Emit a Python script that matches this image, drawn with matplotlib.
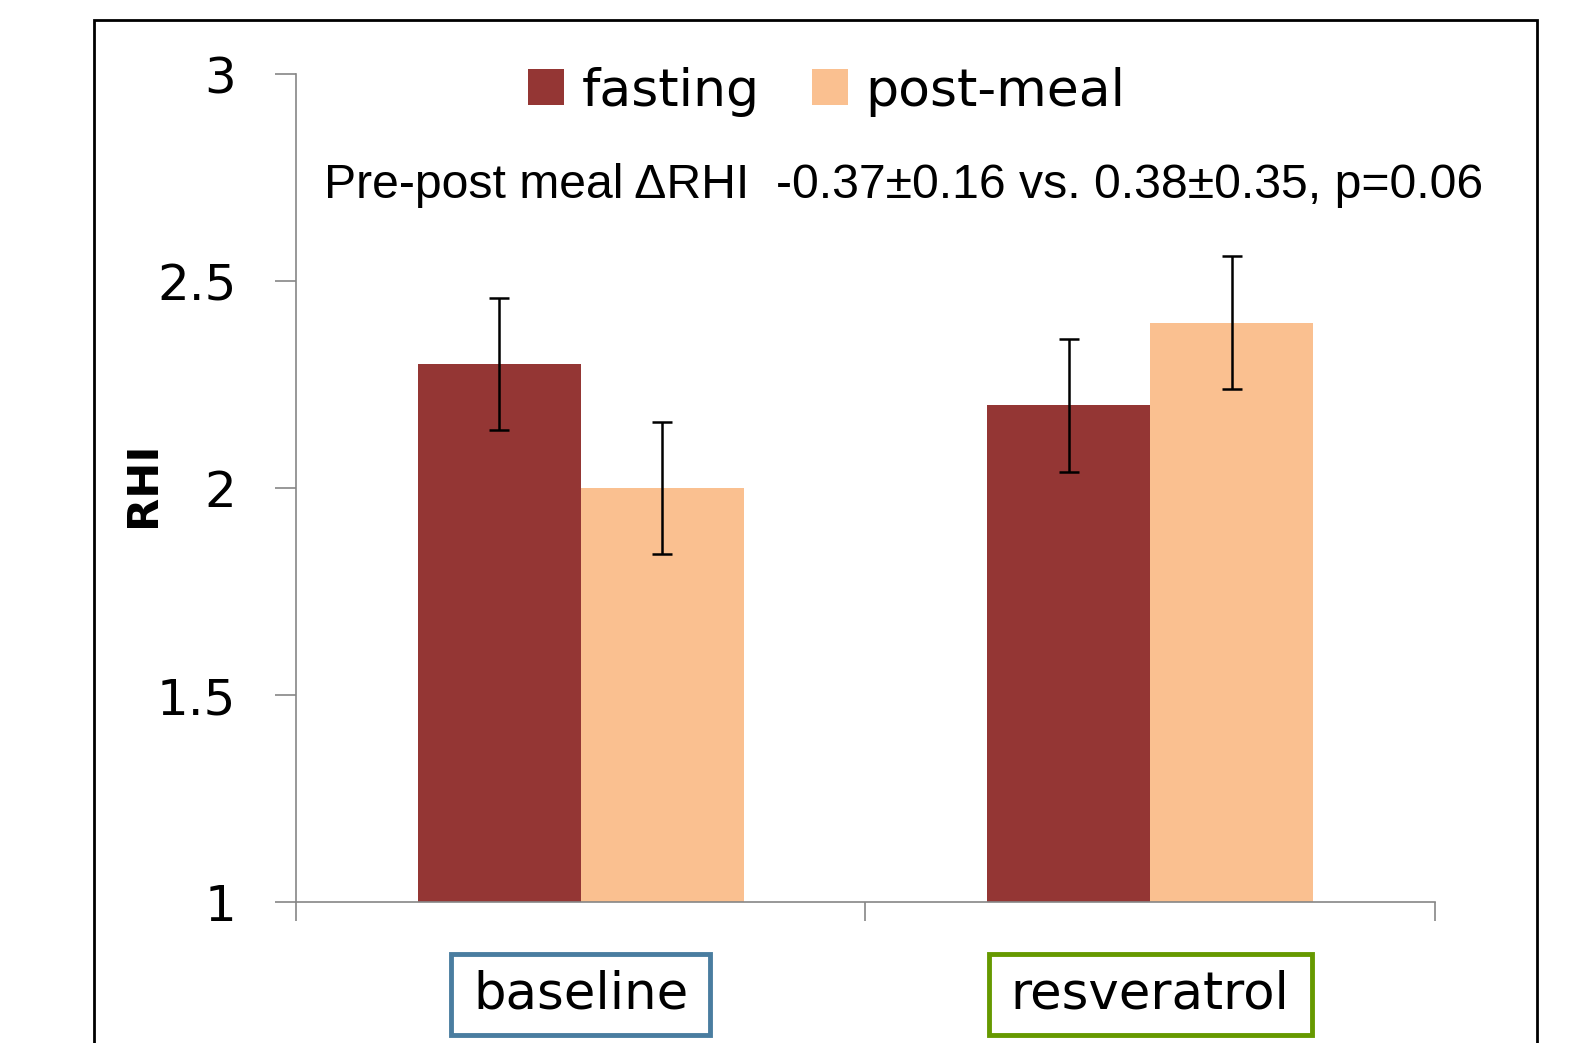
import numpy as np
import matplotlib
matplotlib.use('Agg')
import matplotlib.pyplot as plt
from matplotlib.patches import Rectangle

# data
groups = ['baseline', 'resveratrol']
series = ['fasting', 'post-meal']
fasting = [2.30, 2.20]
post_meal = [2.00, 2.40]
fasting_err = [0.16, 0.16]
post_meal_err = [0.16, 0.16]
y_ticks = [1, 1.5, 2, 2.5, 3]
y_ticklabels = ['1', '1.5', '2', '2.5', '3']
note = 'Pre-post meal \u0394RHI  -0.37\u00b10.16 vs. 0.38\u00b10.35, p=0.06'

bar_colors = ['#943634', '#FAC090']
box_colors = ['#4A7DA0', '#669900']

fig = plt.figure(figsize=(15.96, 10.43), dpi=100)
ax = fig.add_axes([0.1855, 0.1352, 0.899 - 0.1855, 0.9288 - 0.1352])

# outer frame of the slide chart
fig.patches.append(Rectangle((94 / 1596, -0.05), (1537 - 94) / 1596, 1.05 - 20 / 1043,
                             transform=fig.transFigure, fill=False,
                             edgecolor='black', linewidth=2.0))

x = np.arange(len(groups)) + 0.5
w = 0.286
ax.bar(x - w / 2, fasting, w, bottom=0, color=bar_colors[0], label=series[0], zorder=2)
ax.bar(x + w / 2, post_meal, w, bottom=0, color=bar_colors[1], label=series[1], zorder=2)
ax.errorbar(x - w / 2, fasting, yerr=fasting_err, fmt='none', ecolor='black',
            elinewidth=1.8, capsize=7, capthick=1.8, zorder=3)
ax.errorbar(x + w / 2, post_meal, yerr=post_meal_err, fmt='none', ecolor='black',
            elinewidth=1.8, capsize=7, capthick=1.8, zorder=3)

ax.set_xlim(0, len(groups))
ax.set_ylim(1, 3)
ax.set_xticks(np.arange(len(groups) + 1))
ax.set_xticklabels([])
ax.set_yticks(y_ticks)
ax.set_yticklabels(y_ticklabels, fontsize=36, fontfamily='DejaVu Sans')

for s in ['top', 'right']:
    ax.spines[s].set_visible(False)
for s in ['left', 'bottom']:
    ax.spines[s].set_color('#868686')
    ax.spines[s].set_linewidth(1.2)
ax.tick_params(axis='y', length=15, width=1.2, color='#868686', pad=28)
ax.tick_params(axis='x', length=14, width=1.2, color='#868686')

ax.set_ylabel('RHI', fontsize=31, fontweight='bold', fontfamily='DejaVu Sans', va='center')
ax.yaxis.set_label_coords(-0.134, 0.505)

for xi, name, c in zip(x, groups, box_colors):
    t = ax.text(xi, -0.112, name, transform=ax.get_xaxis_transform(), ha='center',
                va='center', fontsize=37, fontfamily='DejaVu Sans',
                bbox=dict(boxstyle='square,pad=0.43', facecolor='white', edgecolor=c,
                          linewidth=3.5))
    t.get_bbox_patch().set_mutation_aspect(0.7)

leg = fig.legend(loc='center', bbox_to_anchor=(0.518, 0.9122), ncol=2, frameon=False,
                 prop={'family': 'DejaVu Sans', 'size': 37.5}, handlelength=0.69,
                 handleheight=0.69, handletextpad=0.33, columnspacing=1.0)

fig.text(0.566, 0.8097, note, ha='center', va='baseline', fontsize=34.7,
         fontfamily='Liberation Sans')

fig.savefig('out.png', dpi=100)
